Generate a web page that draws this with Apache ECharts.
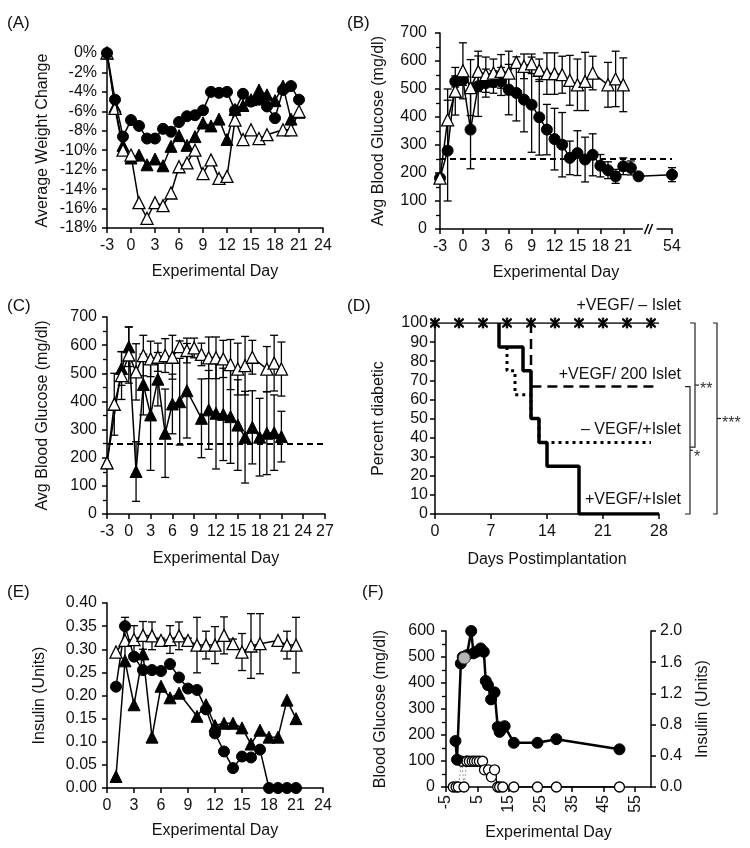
<!DOCTYPE html>
<html><head><meta charset="utf-8">
<script src="https://cdn.jsdelivr.net/npm/echarts@6/dist/echarts.min.js"></script>
<style>html,body{margin:0;padding:0;background:#fff}#c{width:750px;height:848px}</style>
</head><body><div id="c"></div>
<script>
// ---------------- DATA ----------------
// Panel A: average weight change (%)
const daysA = [-3,-2,-1,0,1,2,3,4,5,6,7,8,9,10,11,12,13,14,15,16,17,18,19,20,21];
const wtCircle  = [0,-4.8,-8.6,-6.9,-7.5,-8.8,-8.8,-7.8,-8.1,-7.1,-6.5,-6.4,-5.9,-4.0,-4.1,-4.0,-5.9,-4.2,-5.0,-4.8,-5.5,-6.7,-3.8,-3.4,-4.8];
const wtTriFill = [0,-5.5,-9.5,-10.8,-10.5,-11.5,-10.9,-11.6,-9.6,-8.5,-9.5,-8.6,-7.2,-7.5,-6.8,-8.9,-5.8,-5.4,-4.8,-3.8,-4.3,-4.9,-3.4,-6.8,-6.1];
const wtTriOpen = [0,-5.7,-10.0,-10.5,-15.4,-17.0,-15.4,-15.7,-14.4,-11.7,-11.3,-10.0,-12.4,-11.0,-12.9,-12.7,-6.9,-8.9,-7.9,-8.8,-8.4,null,-7.9,-7.9,-6.0];

// Panel B: avg blood glucose (mg/dl)
const daysB = [-3,-2,-1,0,1,2,3,4,5,6,7,8,9,10,11,12,13,14,15,16,17,18,19,20,21,22,23,54];
const glucCircleB   = [182,280,527,533,355,510,521,525,527,498,486,462,444,399,355,321,301,254,271,248,265,226,210,188,224,218,188,194];
const glucCircleBSE = [0,180,20,20,140,108,50,40,50,90,100,115,170,135,90,110,115,60,80,80,75,40,30,25,30,25,10,25];
const glucTriOpen   = [182,390,492,565,505,563,551,557,563,557,595,581,590,567,555,555,551,531,515,527,557,null,515,536,515];
const glucTriOpenSE = [0,110,85,100,100,72,63,50,60,78,20,44,35,40,74,74,66,89,92,104,60,null,80,99,96];
const ticksB = [-3,0,3,6,9,12,15,18,21,54];

// Panel C
const glucTriFill   = [182,null,517,594,151,460,352,479,287,391,399,438,null,340,370,358,354,346,316,273,308,273,287,289,275];
const glucTriFillSE = [0,null,60,70,106,108,197,95,157,106,154,168,null,140,140,198,164,166,161,163,130,138,147,134,90];
const thresholdGlucose = 250;

// Panel D: percent diabetic (Kaplan-Meier)
const kmNoIsletDays = [0,3,6,9,12,15,18,21,24,27,28];
const kmNoIslet     = [100,100,100,100,100,100,100,100,100,100,100];
const kmVegfIsletDays = [8,8,11,12,13,14,18,28];
const kmVegfIslet     = [100,87.5,75,50,37.5,25,0,0];
const km200Days = [12,12,28];
const km200     = [100,66.7,66.7];
const kmNoVegfDays = [9,9,10,12,13,27];
const kmNoVegf     = [87.5,75,62.5,50,37.5,37.5];
const kmLabels = ['+VEGF/ – Islet','+VEGF/ 200 Islet','– VEGF/+Islet','+VEGF/+Islet'];
const sigLabels = ['**','*','***'];

// Panel E: insulin (Units)
const daysE = [1,2,3,4,5,6,7,8,9,10,11,12,13,14,15,16,17,18,19,20,21];
const insOpen   = [0.294,0.319,0.321,0.330,0.329,0.319,0.321,0.329,0.319,0.309,0.309,0.309,0.330,0.312,0.294,0.307,0.312,null,0.319,0.309,0.309];
const insOpenSE = [0,0.05,0.03,0.03,0.03,0.005,0.03,0.03,0.005,0.06,0.03,0.04,0.04,0.01,0.04,0.07,0.065,null,0,0.03,0.06];
const insCircle = [0.219,0.350,0.284,0.255,0.255,0.253,0.268,0.239,0.215,0.212,0.170,0.118,0.079,0.043,0.068,0.066,0.083,0,0,0,0];
const insTriFill= [0.025,0.275,0.18,0.29,0.11,0.22,0.195,0.205,null,0.155,0.18,0.135,0.14,0.14,0.13,0.095,0.125,0.11,0.11,0.19,0.15];

// Panel F: single animal
const fGlucDays = [-2,-1.5,-0.3,0.3,1.6,3,3.7,4.6,6,7,7.6,8.3,9.3,10.4,11.4,12,12.8,13.6,16.5,24,30,50];
const fGluc     = [177,105,475,500,507,600,514,520,533,520,408,392,337,364,231,212,225,234,170,170,184,145];
const fGreyDays = [0.8];
const fGrey     = [496];
const fInsDays = [-2.7,-1.8,-1.1,0,0.7,1.6,2.4,3.3,4,4.8,5.6,6.6,7.2,8.5,9.4,10.4,11.4,12,13,16.5,24,30,50];
const fIns     = [0,0,0,0.33,0,0.33,0.33,0.33,0.33,0.33,0.33,0.33,0.22,0.22,0.13,0.22,0,0,0,0,0,0,0];

// ---------------- HELPERS ----------------
const FONT = "'Liberation Sans', Arial, Helvetica, sans-serif";
const TXT = '#111';
function isObj(o){return o && typeof o==='object' && !Array.isArray(o);}
function merge(a,b){const r=Object.assign({},a);for(const k in b){r[k]=(isObj(a[k])&&isObj(b[k]))?merge(a[k],b[k]):b[k];}return r;}
function pts(xs,ys){return xs.map((x,i)=>[x,ys[i]]).filter(d=>d[1]!=null);}
function errPts(xs,ys,se){return xs.map((x,i)=>[x,ys[i],se[i]]).filter(d=>d[1]!=null&&d[2]!=null&&d[2]>0);}

const baseAxis = {
  type:'value', nameLocation:'middle',
  nameTextStyle:{fontSize:16,color:TXT,fontFamily:FONT},
  axisLine:{show:true,onZero:false,lineStyle:{color:'#000',width:1.5}},
  axisTick:{show:true,length:5,lineStyle:{color:'#000',width:1.5}},
  axisLabel:{fontSize:16,color:TXT,fontFamily:FONT,margin:10},
  splitLine:{show:false}
};
function xA(o){return merge(merge(baseAxis,{nameGap:36}),o);}
function yA(o){return merge(merge(baseAxis,{nameRotate:90}),o);}
const minor = {show:true,splitNumber:2,length:4,lineStyle:{color:'#000',width:1.3}};

function lineS(xi,yi,data,sym,filled,extra){
  return merge({
    type:'line',xAxisIndex:xi,yAxisIndex:yi,data:data,symbol:sym,
    symbolSize: sym==='circle'?11:12, showSymbol:true, connectNulls:true, animation:false, silent:true,
    lineStyle:{color:'#000',width:1.5},
    itemStyle: filled?{color:'#000',borderColor:'#000',borderWidth:1}:{color:'#fff',borderColor:'#000',borderWidth:1.3},
    z:3
  }, extra||{});
}
function errS(xi,yi,data){
  return {type:'custom',xAxisIndex:xi,yAxisIndex:yi,data:data,z:2,silent:true,animation:false,
    encode:{x:0,y:1},
    renderItem:function(p,api){
      const x=api.value(0),y=api.value(1),e=api.value(2);
      const t=api.coord([x,y+e]),b=api.coord([x,y-e]);const w=4;
      const st={stroke:'#000',lineWidth:1.3};
      return {type:'group',children:[
        {type:'line',shape:{x1:t[0],y1:t[1],x2:b[0],y2:b[1]},style:st},
        {type:'line',shape:{x1:t[0]-w,y1:t[1],x2:t[0]+w,y2:t[1]},style:st},
        {type:'line',shape:{x1:b[0]-w,y1:b[1],x2:b[0]+w,y2:b[1]},style:st}]};
    }};
}
const dashLine = {silent:true,symbol:'none',label:{show:false},lineStyle:{color:'#000',type:[6,4],width:2},data:[{yAxis:thresholdGlucose}]};
const star = 'path://M4.3,0L5.7,0L5.7,10L4.3,10Z M0.4,1.4L1.4,0.4L9.6,8.6L8.6,9.6Z M8.6,0.4L9.6,1.4L1.4,9.6L0.4,8.6Z';

// ---------------- OPTION ----------------
const option = {
  animation:false,
  backgroundColor:'#fff',
  textStyle:{fontFamily:FONT},
  grid:[
    {left:107,top:53,width:216,height:175},
    {left:440,top:33,width:232,height:196},
    {left:107,top:317,width:218,height:197},
    {left:435,top:323,width:224,height:191},
    {left:107,top:603,width:216,height:185},
    {left:446,top:631,width:205,height:156}
  ],
  xAxis:[
    xA({gridIndex:0,min:-3,max:24,interval:3,name:'Experimental Day'}),
    xA({gridIndex:1,min:-3,max:54,interval:3,name:'Experimental Day',
        breaks:[{start:23.5,end:52,gap:'6.2%'}],
        breakArea:{show:false},
        axisTick:{customValues:ticksB},
        axisLabel:{customValues:ticksB}}),
    xA({gridIndex:2,min:-3,max:27,interval:3,name:'Experimental Day',nameGap:37}),
    xA({gridIndex:3,min:0,max:28,interval:7,name:'Days Postimplantation',nameGap:38}),
    xA({gridIndex:4,min:0,max:24,interval:3,name:'Experimental Day',nameGap:35}),
    xA({gridIndex:5,min:-5,max:60,interval:10,name:'Experimental Day',nameGap:38,
        axisLabel:{rotate:90,showMaxLabel:false,margin:8}})
  ],
  yAxis:[
    yA({gridIndex:0,min:-18,max:0,interval:2,name:'Average Weight Change',nameGap:56,
        axisLabel:{formatter:function(v){return v+'%';}}}),
    yA({gridIndex:1,min:0,max:700,interval:100,name:'Avg Blood Glucose (mg/dl)',nameGap:53,minorTick:minor,axisLabel:{margin:13}}),
    yA({gridIndex:2,min:0,max:700,interval:100,name:'Avg Blood Glucose (mg/dl)',nameGap:56,minorTick:minor}),
    yA({gridIndex:3,min:0,max:100,interval:10,name:'Percent diabetic',nameGap:48,axisLabel:{margin:7}}),
    yA({gridIndex:4,min:0,max:0.4,interval:0.05,name:'Insulin (Units)',nameGap:59,
        axisLabel:{formatter:function(v){return Number(v).toFixed(2);}}}),
    yA({gridIndex:5,min:0,max:600,interval:100,name:'Blood Glucose (mg/dl)',nameGap:57,minorTick:minor,axisLabel:{margin:11}}),
    yA({gridIndex:5,position:'right',min:0,max:2,interval:0.4,name:'Insulin (Units)',nameGap:44,nameRotate:90,
        axisLabel:{margin:9,formatter:function(v){return Number(v).toFixed(1);}}})
  ],
  series:[
    // A
    lineS(0,0,pts(daysA,wtTriFill),'triangle',true),
    lineS(0,0,pts(daysA,wtTriOpen),'triangle',false),
    lineS(0,0,pts(daysA,wtCircle),'circle',true,{z:4}),
    // B
    errS(1,1,errPts(daysB,glucCircleB,glucCircleBSE)),
    errS(1,1,errPts(daysA,glucTriOpen,glucTriOpenSE)),
    lineS(1,1,pts(daysB,glucCircleB),'circle',true,{markLine:dashLine}),
    lineS(1,1,pts(daysA,glucTriOpen),'triangle',false,{z:4}),
    // C
    errS(2,2,errPts(daysA,glucTriFill,glucTriFillSE)),
    errS(2,2,errPts(daysA,glucTriOpen,glucTriOpenSE)),
    lineS(2,2,pts(daysA,glucTriFill),'triangle',true,{markLine:dashLine}),
    lineS(2,2,pts(daysA,glucTriOpen),'triangle',false,{z:4}),
    // D
    lineS(3,3,pts(kmNoIsletDays,kmNoIslet).map((d,i,a)=>i===a.length-1?{value:d,symbol:'none'}:d),star,true,
      {symbolSize:10,lineStyle:{width:1.3},z:5}),
    lineS(3,3,pts(km200Days,km200),'none',true,{step:'end',showSymbol:false,lineStyle:{width:2.5,type:[10,6]}}),
    lineS(3,3,pts(kmNoVegfDays,kmNoVegf),'none',true,{step:'end',showSymbol:false,lineStyle:{width:3,type:[3,4]}}),
    lineS(3,3,pts(kmVegfIsletDays,kmVegfIslet),'none',true,{step:'end',showSymbol:false,lineStyle:{width:3.5},z:4}),
    // E
    errS(4,4,errPts(daysE,insOpen,insOpenSE)),
    lineS(4,4,pts(daysE,insTriFill),'triangle',true),
    lineS(4,4,pts(daysE,insCircle),'circle',true,{z:4}),
    lineS(4,4,pts(daysE,insOpen),'triangle',false,{z:5}),
    // F
    lineS(5,6,pts(fInsDays,fIns).slice(0,6),'circle',false,{symbolSize:10,lineStyle:{color:'#999',width:1,type:[2,2]},z:3}),
    lineS(5,6,pts(fInsDays,fIns).slice(5),'circle',false,{symbolSize:10,lineStyle:{width:1.3},z:3}),
    lineS(5,5,pts(fGlucDays,fGluc),'circle',true,{lineStyle:{width:2.5},z:4}),
    lineS(5,5,pts(fGreyDays,fGrey),'circle',true,{symbolSize:12,itemStyle:{color:'#b5b5b5',borderColor:'#333',borderWidth:1},z:6})
  ]
};

const chart = echarts.init(document.getElementById('c'),null,{width:750,height:848});
chart.setOption(option);

// ---------------- ANNOTATIONS ----------------
function P(xi,yi,x,y){return chart.convertToPixel({xAxisIndex:xi,yAxisIndex:yi},[x,y]);}
const g = [];
const tstyle = {fontSize:16,fill:TXT,fontFamily:FONT};
[['(A)',7,15],['(B)',347,15],['(C)',7,298],['(D)',347,298],['(E)',7,584],['(F)',362,584]].forEach(function(a){
  g.push({type:'text',left:a[1],top:a[2],style:merge(tstyle,{text:a[0],fontSize:17})});
});
// Panel D curve labels
const dRight = P(3,3,28,0)[0];
const labY = [109,73,44,7.5];
kmLabels.forEach(function(t,i){
  const y = P(3,3,0,labY[i])[1];
  g.push({type:'text',x:dRight+22,y:y,style:merge(tstyle,{text:t,align:'right',verticalAlign:'middle'})});
});
// significance brackets
function bracket(x,v1,v2,tickL,midR,label,dy){
  const y1=P(3,3,0,v1)[1], y2=P(3,3,0,v2)[1], ym=(y1+y2)/2;
  const st={stroke:'#222',lineWidth:1.2,fill:null};
  g.push({type:'polyline',shape:{points:[[x-tickL,y1],[x,y1],[x,y2],[x-tickL,y2]]},style:st});
  g.push({type:'line',shape:{x1:x,y1:ym,x2:x+midR,y2:ym},style:st});
  g.push({type:'text',x:x+midR+1,y:ym+dy,style:merge(tstyle,{text:label,verticalAlign:'middle',fill:'#333'})});
}
bracket(dRight+36,100,35,5,4,sigLabels[0],5);
bracket(dRight+31,66.7,0,5,3,sigLabels[1],7);
bracket(dRight+58,100,0,4,4,sigLabels[2],5);
// axis break mark in panel B
const bx1 = P(1,1,23.5,0), bx2 = P(1,1,52,0);
const bxm = (bx1[0]+bx2[0])/2, byb = bx1[1];
g.push({type:'rect',shape:{x:bx1[0]+0.5,y:byb-3,width:bx2[0]-bx1[0]-1,height:6},style:{fill:'#fff'},z:100});
g.push({type:'line',shape:{x1:bxm-5,y1:byb+5,x2:bxm-1,y2:byb-5},style:{stroke:'#000',lineWidth:1.5},z:101});
g.push({type:'line',shape:{x1:bxm-1,y1:byb+5,x2:bxm+3,y2:byb-5},style:{stroke:'#000',lineWidth:1.5},z:101});
chart.setOption({graphic:g});
</script></body></html>
